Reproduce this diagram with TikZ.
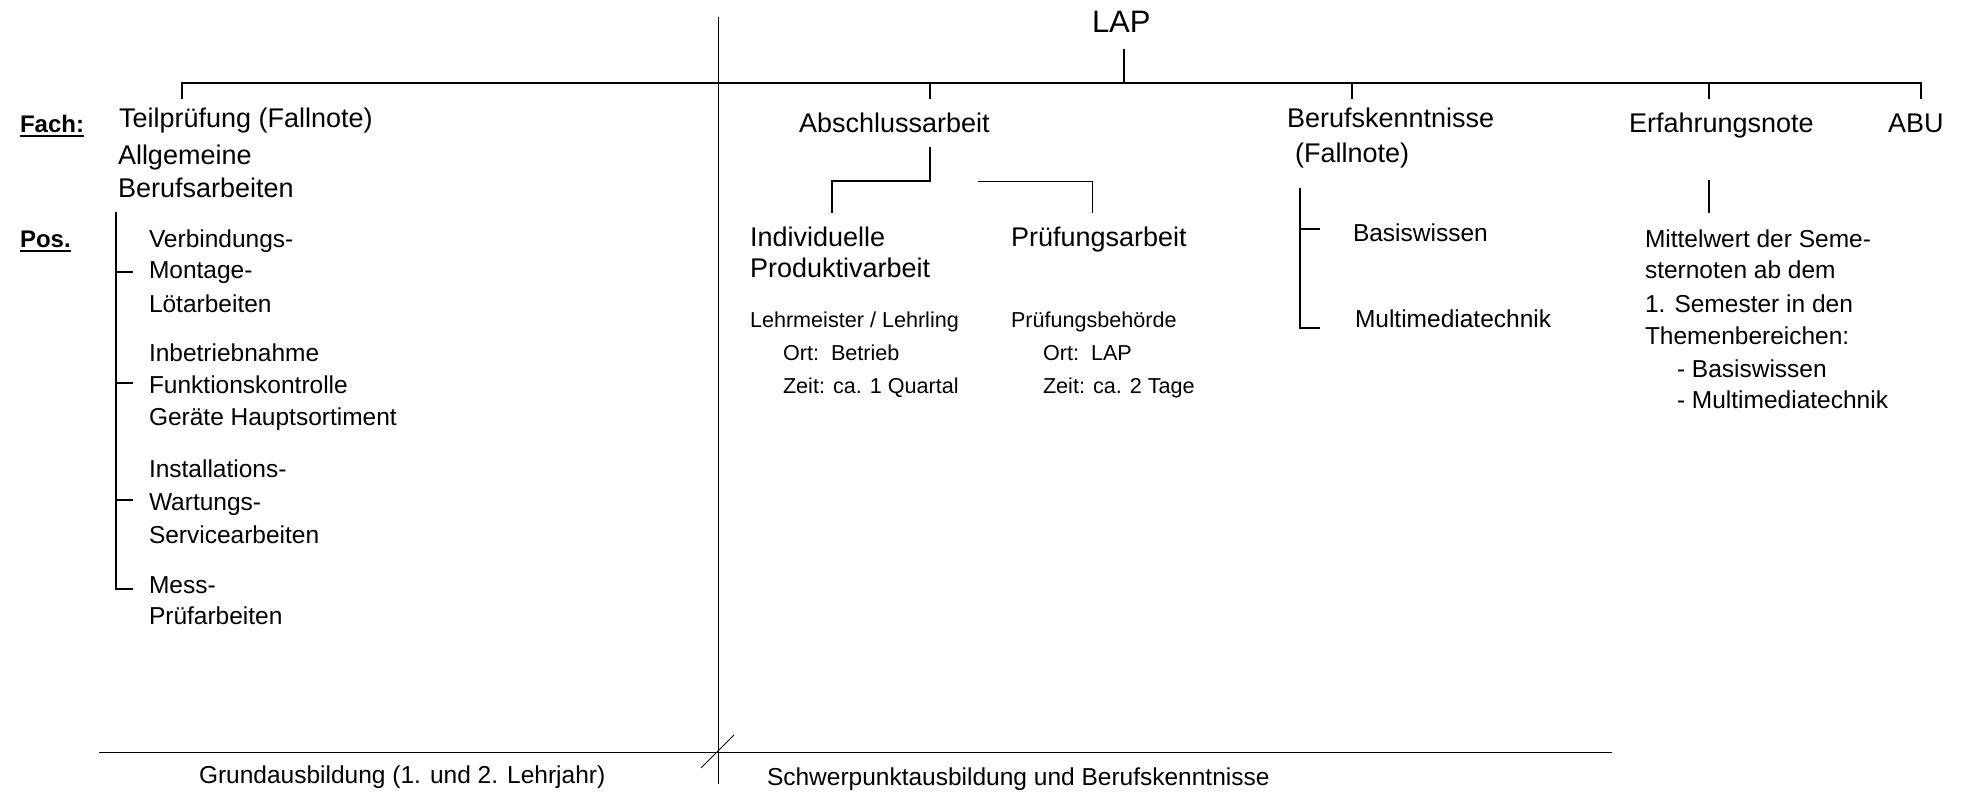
\documentclass[tikz,border=0pt]{standalone}
\usepackage{fontspec}
\setmainfont{Liberation Sans}
\begin{document}
\begin{tikzpicture}[x=1pt,y=-1pt,
  thk/.style={line width=2.6pt},
  thn/.style={line width=1pt},
  ul/.style={line width=2pt},
  lbl/.style={anchor=base west, inner sep=0pt, outer sep=0pt},
  lapf/.style={lbl, font=\fontsize{31}{36}\selectfont},
  mainf/.style={lbl, font=\fontsize{27}{32}\selectfont},
  subf/.style={lbl, font=\fontsize{24.5}{30}\selectfont},
  smallf/.style={lbl, font=\fontsize{21.6}{26}\selectfont},
  headf/.style={lbl, font=\bfseries\fontsize{24}{28}\selectfont}]
\useasboundingbox (0,0) rectangle (1966,792);

% ---------- texts ----------
\node[lapf]  (lap)   at (1092,33) {LAP};
\node[headf] (fach)  at (20,132) {Fach:};
\node[headf] (pos)   at (20,247) {Pos.};

\node[mainf] (teil)  at (119,128) {Teilprüfung (Fallnote)};
\node[mainf] (allg)  at (118,164) {Allgemeine};
\node[mainf] (bera)  at (118,197) {Berufsarbeiten};

\node[subf] (p1) at (149,247) {Verbindungs-};
\node[subf] (p2) at (149,278) {Montage-};
\node[subf] (p3) at (149,312) {Lötarbeiten};
\node[subf] (p4) at (149,361) {Inbetriebnahme};
\node[subf] (p5) at (149,393) {Funktionskontrolle};
\node[subf] (p6) at (149,425) {Geräte Hauptsortiment};
\node[subf] (p7) at (149,477) {Installations-};
\node[subf] (p8) at (149,510) {Wartungs-};
\node[subf] (p9) at (149,543) {Servicearbeiten};
\node[subf] (p10) at (149,593) {Mess-};
\node[subf] (p11) at (149,624) {Prüfarbeiten};

\node[mainf] (absch) at (799,132) {Abschlussarbeit};
\node[mainf] (ind1)  at (750,246) {Individuelle};
\node[mainf] (ind2)  at (750,277) {Produktivarbeit};
\node[mainf] (pra)   at (1011,246) {Prüfungsarbeit};

\node[smallf] (s1) at (750,327) {Lehrmeister / Lehrling};
\node[smallf] (s2) at (783,360) {Ort:\ \ Betrieb};
\node[smallf] (s3) at (783,393) {Zeit: ca. 1 Quartal};
\node[smallf] (s4) at (1011,327) {Prüfungsbehörde};
\node[smallf] (s5) at (1043,360) {Ort:\ \ LAP};
\node[smallf] (s6) at (1043,393) {Zeit: ca. 2 Tage};

\node[mainf] (bk1) at (1287,127) {Berufskenntnisse};
\node[mainf] (bk2) at (1295,162) {(Fallnote)};
\node[subf] (bw)  at (1353,241) {Basiswissen};
\node[subf] (mm)  at (1355,327) {Multimediatechnik};

\node[mainf] (erf) at (1629,132) {Erfahrungsnote};
\node[mainf] (abu) at (1888,132) {ABU};
\node[subf] (e1) at (1645,247) {Mittelwert der Seme-};
\node[subf] (e2) at (1645,278) {sternoten ab dem};
\node[subf] (e3) at (1645,312) {1. Semester in den};
\node[subf] (e4) at (1645,344) {Themenbereichen:};
\node[subf] (e5) at (1677,377) {- Basiswissen};
\node[subf] (e6) at (1677,408) {- Multimediatechnik};

\node[subf] (grund) at (199,783) {Grundausbildung (1. und 2. Lehrjahr)};
\node[subf] (schw)  at (767,785) {Schwerpunktausbildung und Berufskenntnisse};

% underlines
\draw[ul] ([yshift=-4pt]fach.base west) -- ([yshift=-4pt]fach.base east);
\draw[ul] ([yshift=-4pt]pos.base west) -- ([yshift=-4pt]pos.base east);

% ---------- connectors ----------
\coordinate (barL) at (182,83);
\coordinate (barR) at (1921,83);
\coordinate (tTeil) at (182,99);
\coordinate (tABU) at (1921,99);
\coordinate (tLAP) at (1124,49);
\coordinate (bLAP) at (1124,83);
\coordinate (aAbs) at (930,83);
\coordinate (tAbs) at (930,99);
\coordinate (aBk) at (1352,83);
\coordinate (tBk) at (1352,99);
\coordinate (aErf) at (1709,83);
\coordinate (tErf) at (1709,99);

\draw[thk] (tTeil) -- (barL) -- (barR) -- (tABU);
\draw[thk] (tLAP) -- (bLAP);
\draw[thk] (aAbs) -- (tAbs);
\draw[thk] (aBk) -- (tBk);
\draw[thk] (aErf) -- (tErf);

% Abschlussarbeit branches
\coordinate (absD) at (930,147);
\coordinate (absJ) at (930,181);
\coordinate (indJ) at (832,181);
\coordinate (indT) at (832,213);
\coordinate (praJ1) at (978,181);
\coordinate (praJ2) at (1092,181);
\coordinate (praT) at (1092,213);
\draw[thk] (absD) -- (absJ) -- (indJ) -- (indT);
\draw[thn] (praJ1) -- (praJ2) -- (praT);

% Erfahrungsnote stub
\coordinate (erfA) at (1709,180);
\coordinate (erfB) at (1709,213);
\draw[thk] (erfA) -- (erfB);

% Pos. bracket
\coordinate (posTop) at (116,212);
\coordinate (posBot) at (116,589);
\coordinate (posEnd) at (133,589);
\draw[thk] (posTop) -- (posBot) -- (posEnd);
\foreach \yy/\nm in {272/p2, 383/p5, 500/p8}{
  \coordinate (k\nm) at (116,\yy);
  \coordinate (q\nm) at (133,\yy);
  \draw[thk] (k\nm) -- (q\nm);
}

% Berufskenntnisse bracket
\coordinate (bkTop) at (1300,188);
\coordinate (bkBot) at (1300,328);
\coordinate (bkEnd) at (1320,328);
\coordinate (bkK) at (1300,229);
\coordinate (bkQ) at (1320,229);
\draw[thk] (bkTop) -- (bkBot) -- (bkEnd);
\draw[thk] (bkK) -- (bkQ);

% divider, base line, slash
\coordinate (divT) at (718,17);
\coordinate (divB) at (718,784);
\coordinate (baseL) at (99,752);
\coordinate (baseR) at (1612,752);
\coordinate (slA) at (734,735);
\coordinate (slB) at (701,768);
\draw[thn] (divT) -- (divB);
\draw[thn] (baseL) -- (baseR);
\draw[thn] (slA) -- (slB);
\end{tikzpicture}
\end{document}
